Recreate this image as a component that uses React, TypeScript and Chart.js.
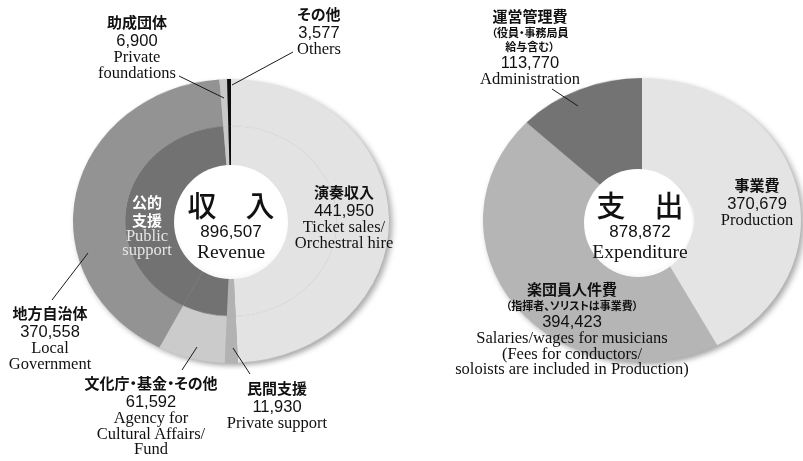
import React, { useEffect, useRef } from "react";
import { Chart, registerables } from "chart.js";

Chart.register(...registerables);

// ---------- DATA ----------
const revenueCategoriesJa = ["演奏収入", "民間支援", "文化庁・基金・その他", "地方自治体", "助成団体", "その他"];
const revenueCategoriesEn = [
  "Ticket sales/\nOrchestral hire",
  "Private support",
  "Agency for\nCultural Affairs/\nFund",
  "Local\nGovernment",
  "Private\nfoundations",
  "Others",
];
const revenueValues = [441950, 11930, 61592, 370558, 6900, 3577];
const revenuePublicSupport = [false, false, true, true, false, false];
const publicSupportJa = "公的\n支援";
const publicSupportEn = "Public\nsupport";
const revenueTitleJa = "収　入";
const revenueTitleEn = "Revenue";

const expenditureCategoriesJa = ["事業費", "楽団員人件費", "運営管理費"];
const expenditureNotesJa = ["", "（指揮者、ソリストは事業費）", "（役員・事務局員\n給与含む）"];
const expenditureCategoriesEn = [
  "Production",
  "Salaries/wages for musicians\n(Fees for conductors/\nsoloists are included in Production)",
  "Administration",
];
const expenditureValues = [370679, 394423, 113770];
const expenditureTitleJa = "支　出";
const expenditureTitleEn = "Expenditure";

// ---------- STYLE / LAYOUT ----------
const revenueOuterColors = ["#e3e3e3", "#b2b2b2", "#cbcbcb", "#939393", "#c9c9c9", "#0d0d0d"];
const publicSupportColor = "#727272";
const expenditureColors = ["#e4e4e4", "#b5b5b5", "#737373"];

const revenueLabelPos = [
  { x: 344, y: 183 },
  { x: 277, y: 379 },
  { x: 151, y: 374 },
  { x: 50, y: 304 },
  { x: 137, y: 13 },
  { x: 319, y: 5 },
];
const expenditureLabelPos = [
  { x: 757, y: 176 },
  { x: 572, y: 280 },
  { x: 530, y: 7 },
];
const leaderLines = [
  [179, 76, 224, 98],
  [293, 52, 232, 85],
  [88, 253, 52, 300],
  [197, 347, 182, 370],
  [233, 348, 250, 374],
  [552, 89, 578, 106],
];

const fmt = (v: number) => v.toLocaleString("en-US");
const sum = (a: number[]) => a.reduce((s, v) => s + v, 0);

const jaFont = '"Noto Sans CJK JP", "Noto Sans CJK SC", sans-serif';
const numFont = '"Liberation Sans", Arial, sans-serif';
const enFont = '"Liberation Serif", "Times New Roman", serif';

const lineStyles: Record<string, React.CSSProperties> = {
  ja: { font: `700 15px ${jaFont}`, lineHeight: "18px", fontFeatureSettings: '"palt"' },
  note: { font: `700 11px ${jaFont}`, lineHeight: "14px", fontFeatureSettings: '"palt"' },
  num: { font: `400 16.5px ${numFont}`, lineHeight: "18px" },
  en: { font: `400 16.5px ${enFont}`, lineHeight: "15.5px" },
};

type Line = { text: string; kind: string };

function Block({ x, y, lines, color = "#111" }: { x: number; y: number; lines: Line[]; color?: string }) {
  return (
    <div
      style={{
        position: "absolute",
        left: x,
        top: y,
        transform: "translateX(-50%)",
        textAlign: "center",
        whiteSpace: "nowrap",
        color,
      }}
    >
      {lines.map((l, i) => (
        <div key={i} style={lineStyles[l.kind]}>
          {l.text}
        </div>
      ))}
    </div>
  );
}

const split = (s: string, kind: string): Line[] => (s ? s.split("\n").map((t) => ({ text: t, kind })) : []);

function Donut({
  labels,
  values,
  outerColors,
  innerColors,
  cx,
  cy,
  rx,
  ry,
  cutout,
}: {
  labels: string[];
  values: number[];
  outerColors: string[];
  innerColors?: string[];
  cx: number;
  cy: number;
  rx: number;
  ry: number;
  cutout: string;
}) {
  const ref = useRef<HTMLCanvasElement>(null);
  useEffect(() => {
    const datasets: any[] = [{ data: values, backgroundColor: outerColors, borderWidth: 0 }];
    if (innerColors) datasets.push({ data: values, backgroundColor: innerColors, borderWidth: 0 });
    const chart = new Chart(ref.current!, {
      type: "doughnut",
      data: { labels, datasets },
      options: {
        responsive: false,
        animation: false,
        cutout,
        events: [],
        layout: { padding: 0 },
        plugins: { legend: { display: false }, tooltip: { enabled: false } },
      },
    });
    return () => chart.destroy();
  }, []);
  const size = 2 * rx;
  return (
    <div
      style={{
        position: "absolute",
        left: cx - rx,
        top: cy - rx,
        width: size,
        height: size,
        transform: `scaleY(${ry / rx})`,
        filter: "drop-shadow(3px 3px 3px rgba(0,0,0,0.35))",
      }}
    >
      <canvas ref={ref} width={size} height={size} style={{ width: size, height: size, display: "block" }} />
    </div>
  );
}

function Hole({ cx, cy, r }: { cx: number; cy: number; r: number }) {
  return (
    <div
      style={{
        position: "absolute",
        left: cx - r,
        top: cy - r,
        width: 2 * r,
        height: 2 * r,
        borderRadius: "50%",
        background:
          "radial-gradient(circle at 50% 46%, #ffffff 0%, #ffffff 66%, #f0f0f0 80%, #d6d6d6 93%, #c4c4c4 100%)",
      }}
    />
  );
}

export default function App() {
  const revenueInnerColors = revenueOuterColors.map((c, i) => (revenuePublicSupport[i] ? publicSupportColor : c));
  return (
    <div
      style={{
        position: "fixed",
        left: 0,
        top: 0,
        width: 803,
        height: 461,
        overflow: "hidden",
        background: "#fff",
      }}
    >
      <Donut
        labels={revenueCategoriesJa}
        values={revenueValues}
        outerColors={revenueOuterColors}
        innerColors={revenueInnerColors}
        cx={231}
        cy={221}
        rx={158}
        ry={142}
        cutout="34%"
      />
      <Donut
        labels={expenditureCategoriesJa}
        values={expenditureValues}
        outerColors={expenditureColors}
        cx={642}
        cy={220}
        rx={159}
        ry={142}
        cutout="33%"
      />
      <Hole cx={231} cy={222} r={57} />
      <Hole cx={638} cy={223} r={54} />

      <svg width={803} height={461} style={{ position: "absolute", left: 0, top: 0 }}>
        {leaderLines.map((l, i) => (
          <line key={i} x1={l[0]} y1={l[1]} x2={l[2]} y2={l[3]} stroke="#1a1a1a" strokeWidth={1} />
        ))}
      </svg>

      {revenueCategoriesJa.map((name, i) => (
        <Block
          key={"r" + i}
          x={revenueLabelPos[i].x}
          y={revenueLabelPos[i].y}
          lines={[
            ...split(name, "ja"),
            { text: fmt(revenueValues[i]), kind: "num" },
            ...split(revenueCategoriesEn[i], "en"),
          ]}
        />
      ))}
      {expenditureCategoriesJa.map((name, i) => (
        <Block
          key={"e" + i}
          x={expenditureLabelPos[i].x}
          y={expenditureLabelPos[i].y}
          lines={[
            ...split(name, "ja"),
            ...split(expenditureNotesJa[i], "note"),
            { text: fmt(expenditureValues[i]), kind: "num" },
            ...split(expenditureCategoriesEn[i], "en"),
          ]}
        />
      ))}

      {/* Public support group label */}
      <div
        style={{
          position: "absolute",
          left: 147,
          top: 193,
          transform: "translateX(-50%)",
          textAlign: "center",
          whiteSpace: "nowrap",
        }}
      >
        {split(publicSupportJa, "ja").map((l, i) => (
          <div key={i} style={{ ...lineStyles.ja, color: "#ffffff" }}>
            {l.text}
          </div>
        ))}
        {split(publicSupportEn, "en").map((l, i) => (
          <div key={"e" + i} style={{ ...lineStyles.en, color: "#e6e6e6", lineHeight: "14px" }}>
            {l.text}
          </div>
        ))}
      </div>

      {/* Centre titles */}
      {[
        { x: 231, ja: revenueTitleJa, total: sum(revenueValues), en: revenueTitleEn },
        { x: 640, ja: expenditureTitleJa, total: sum(expenditureValues), en: expenditureTitleEn },
      ].map((c, i) => (
        <div
          key={"c" + i}
          style={{
            position: "absolute",
            left: c.x,
            top: 186,
            transform: "translateX(-50%)",
            textAlign: "center",
            whiteSpace: "nowrap",
            color: "#111",
          }}
        >
          <div style={{ font: `500 29px ${jaFont}`, lineHeight: "36px" }}>{c.ja}</div>
          <div style={{ font: `400 17px ${numFont}`, lineHeight: "19px" }}>{fmt(c.total)}</div>
          <div style={{ font: `400 19.5px ${enFont}`, lineHeight: "22px" }}>{c.en}</div>
        </div>
      ))}
    </div>
  );
}
